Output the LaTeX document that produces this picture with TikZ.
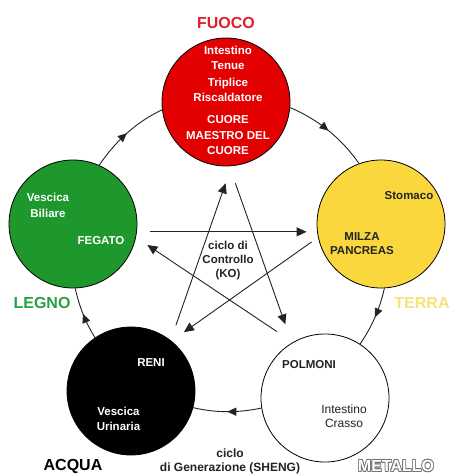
\documentclass[tikz,border=0pt]{standalone}
\usepackage{fontspec}
\setmainfont{Liberation Sans}
\usetikzlibrary{arrows.meta,decorations.markings}
\definecolor{fire}{RGB}{226,0,0}
\definecolor{wood}{RGB}{30,152,45}
\definecolor{earth}{RGB}{250,215,60}
\definecolor{firetxt}{RGB}{222,32,42}
\definecolor{woodtxt}{RGB}{40,160,70}
\definecolor{earthtxt}{RGB}{245,228,120}
\definecolor{ink}{RGB}{35,35,35}
\begin{document}
\begin{tikzpicture}[x=1pt,y=1pt,
  elem/.style={circle,draw=black,line width=0.8pt,minimum size=128pt,inner sep=0pt},
  organ/.style={font=\fontsize{11.5}{15}\selectfont\bfseries,align=center,inner sep=0pt},
  title/.style={font=\fontsize{16}{18}\selectfont\bfseries,inner sep=0pt},
  gen/.style={draw=ink,line width=0.9pt,looseness=0.87,postaction={decorate},
    decoration={markings,mark=at position 0.5 with {\arrow{Triangle[length=9pt,width=8pt]}}}},
  ko/.style={draw=ink,line width=0.9pt,-{Triangle[length=10pt,width=9pt]}}]
\useasboundingbox (0,0) rectangle (449,-476);
\fill[white] (0,0) rectangle (449,-476);

% elements
\node[elem,fill=fire]  (F) at (226,-102) {};
\node[elem,fill=wood]  (W) at (73,-224) {};
\node[elem,fill=earth] (E) at (381,-224) {};
\node[elem,fill=black] (A) at (131,-391) {};
\node[elem,fill=white] (M) at (325,-398) {};

% generation cycle (SHENG)
\draw[gen] (W.66.7) to[out=55.8,in=204.9] (F.187.7);
\draw[gen] (F.-5.5) to[out=-22.7,in=124.8] (E.110.3);
\draw[gen] (E.-87.8) to[out=-102.4,in=55.4] (M.57.9);
\draw[gen] (M.189.4) to[out=-168,in=-13.3] (A.-15.3);
\draw[gen] (A.124) to[out=122.1,in=282.4] (W.-88.5);

% control cycle (KO)
\draw[ko,shorten <=13.5pt,shorten >=10.5pt] (W.-7.2) -- (E.187.2);
\draw[ko,shorten <=18pt,shorten >=19.6pt] (F.-87.3) -- (M.121.6);
\draw[ko,shorten <=15.9pt,shorten >=18.2pt] (A.52.8) -- (F.-85.5);
\draw[ko,shorten <=7.9pt,shorten >=15.2pt] (E.192.2) -- (A.51.8);
\draw[ko,shorten <=19.1pt,shorten >=13.7pt] (M.120.1) -- (W.-12.1);

% organ labels
\node[organ,white] (f1) at (228,-57.5) {Intestino\\Tenue};
\node[organ,white] (f2) at (228,-89.5) {Triplice\\Riscaldatore};
\node[organ,white,font=\fontsize{11.5}{15.5}\selectfont\bfseries] (f3) at (228,-135.5) {CUORE\\MAESTRO DEL\\CUORE};
\node[organ,white,font=\fontsize{11.5}{16}\selectfont\bfseries] (w1) at (48,-205) {Vescica\\Biliare};
\node[organ,white] (w2) at (101,-241) {FEGATO};
\node[organ,ink] (e1) at (409,-196) {Stomaco};
\node[organ,ink,font=\fontsize{11.5}{13.5}\selectfont\bfseries] (e2) at (362,-243.5) {MILZA\\PANCREAS};
\node[organ,white] (a1) at (151,-363) {RENI};
\node[organ,white] (a2) at (118.5,-418.5) {Vescica\\Urinaria};
\node[organ,ink] (m1) at (309,-365) {POLMONI};
\node[organ,ink,font=\fontsize{12}{14}\selectfont] (m2) at (344,-416) {Intestino\\Crasso};

% cycle labels
\node[organ,ink,font=\fontsize{11.5}{14}\selectfont\bfseries] (kolbl) at (228,-261) {ciclo di\\Controllo\\(KO)};
\node[organ,ink,font=\fontsize{12}{14}\selectfont\bfseries] (shlbl) at (230,-461) {ciclo\\di Generazione (SHENG)};

% element names
\node[title,firetxt] (tF) at (226,-23) {FUOCO};
\node[title,woodtxt] (tW) at (42,-303) {LEGNO};
\node[title,earthtxt] (tE) at (422,-303) {TERRA};
\node[title,black] (tA) at (73,-466) {ACQUA};
\foreach \dx/\dy in {0.8/0,-0.8/0,0/0.8,0/-0.8,0.6/0.6,-0.6/0.6,0.6/-0.6,-0.6/-0.6}
  \node[title,black!55] at (396+\dx,-466+\dy) {METALLO};
\node[title,white] (tM) at (396,-466) {METALLO};
\end{tikzpicture}
\end{document}
